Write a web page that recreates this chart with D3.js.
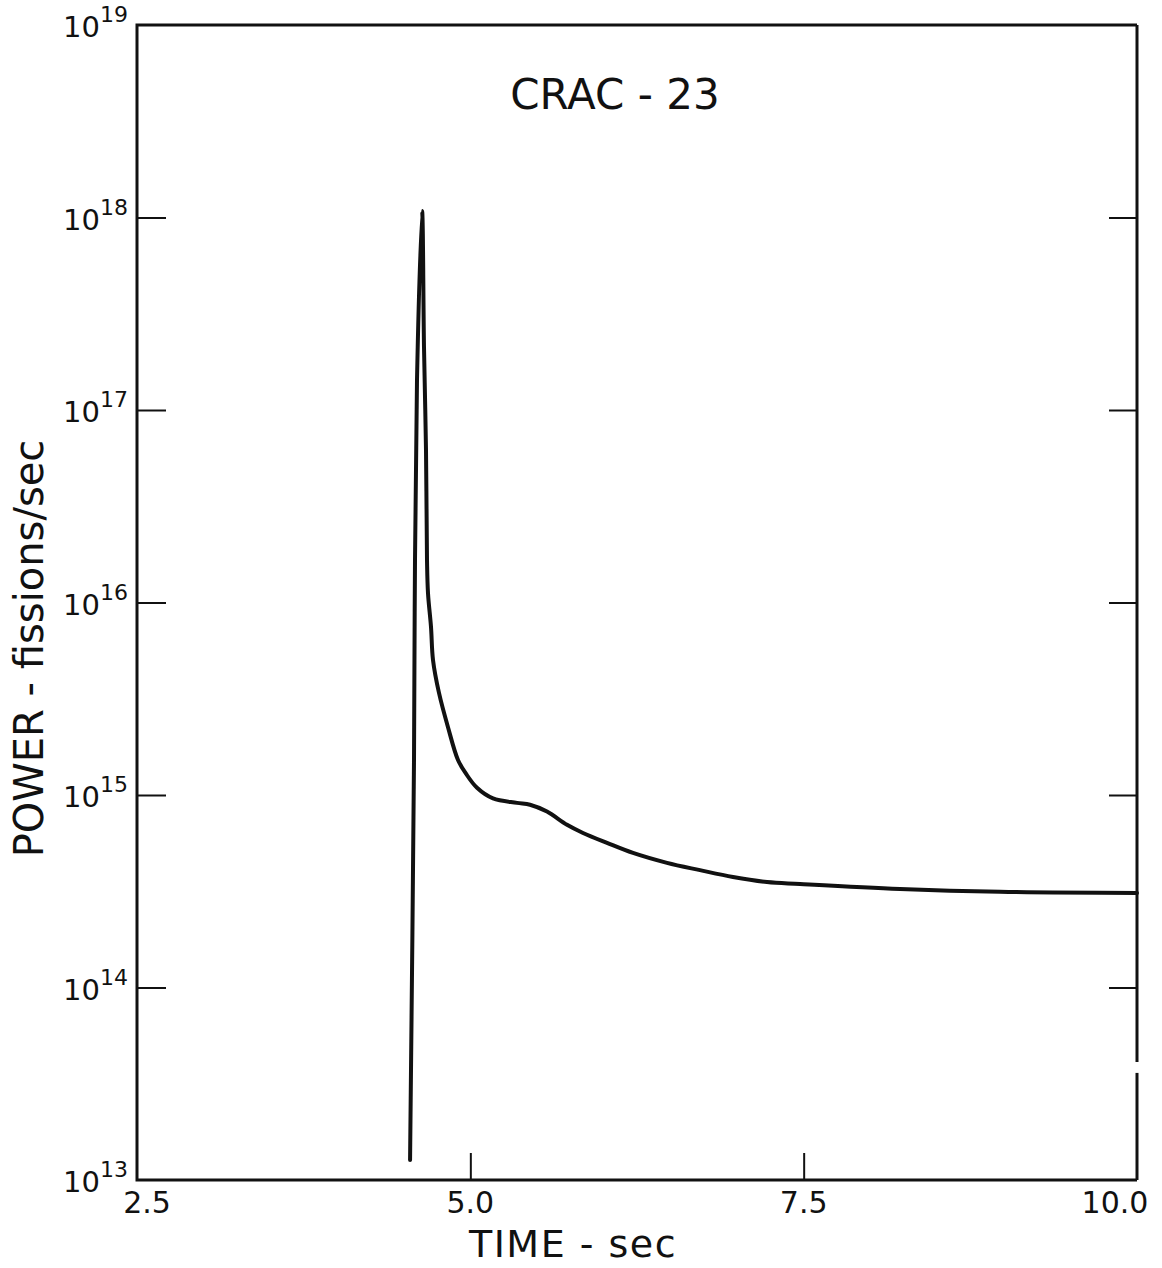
<!doctype html>
<html lang="en">
<head>
  <meta charset="utf-8" />
  <title>CRAC-23 power</title>
  <script src="https://cdn.jsdelivr.net/npm/d3@7"></script>
  <style>
    body { margin: 0; background: #fff; }
    text { font-family: "DejaVu Sans", sans-serif; fill: #111; }
  </style>
</head>
<body>
<script type="text/javascript">

  // data: time (s) and power (fissions/sec)
  var time = [4.548, 4.5775, 4.585, 4.60, 4.638, 4.6525, 4.6675, 4.675, 4.6825, 4.705,
              4.72, 4.765, 4.8325, 4.9075, 4.9675, 5.05, 5.17, 5.35, 5.4475, 5.575,
              5.725, 5.845, 6.025, 6.22, 6.475, 6.7225, 6.97, 7.225, 7.4725, 8.2225,
              8.9725, 10.0];
  var power = [1.27e13, 1.52e15, 1.66e16, 1.43e17, 1.08e18, 2.12e17, 6.2e16, 1.66e16, 1.12e16, 7.46e15,
               5.03e15, 3.39e15, 2.25e15, 1.52e15, 1.29e15, 1.09e15, 9.6e14, 9.1e14, 8.9e14, 8.2e14,
               7.0e14, 6.35e14, 5.64e14, 5.0e14, 4.44e14, 4.07e14, 3.75e14, 3.53e14, 3.45e14, 3.25e14,
               3.14e14, 3.10e14];

  var xTicks = [2.5, 5.0, 7.5, 10.0];
  var xTickLabels = ["2.5", "5.0", "7.5", "10.0"];
  var yExponents = [13, 14, 15, 16, 17, 18, 19];
  var title = "CRAC - 23";

  var margin = {top: 25, right: 25, bottom: 88, left: 137},
      width = 1162 - margin.left - margin.right,
      height = 1268 - margin.top - margin.bottom;

  var x = d3.scaleLinear().domain([2.5, 10]).range([0, width]);
  var y = d3.scaleLog().domain([1e13, 1e19]).range([height, 0]);

  var svg = d3.select("body").append("svg")
      .attr("width", 1162)
      .attr("height", 1268)
    .append("g")
      .attr("transform", "translate(" + margin.left + "," + margin.top + ")");

  var yVals = yExponents.map(function(e) { return Math.pow(10, e); });
  var inner = yVals.slice(1, -1);

  // inward ticks
  var leftAxis = d3.axisLeft(y).tickValues(inner).tickSize(-29).tickFormat("");
  var rightAxis = d3.axisRight(y).tickValues(inner).tickSize(-28).tickFormat("");
  var bottomAxis = d3.axisBottom(x).tickValues([5.0, 7.5]).tickSize(-27).tickFormat("");

  svg.append("g").attr("class", "axis").call(leftAxis);
  svg.append("g").attr("class", "axis").attr("transform", "translate(" + width + ",0)").call(rightAxis);
  svg.append("g").attr("class", "axis").attr("transform", "translate(0," + height + ")").call(bottomAxis);

  svg.selectAll(".axis .domain").remove();
  svg.selectAll(".axis line").attr("stroke", "#111").attr("stroke-width", 2);

  // frame (the right edge has a small break near the bottom, as in the scan)
  var frame = svg.append("g").attr("stroke", "#111").attr("stroke-width", 3).attr("fill", "none");
  frame.append("path").attr("d", "M" + width + ",0H0V" + height + "H" + width);
  frame.append("line").attr("x1", width).attr("x2", width).attr("y1", 0).attr("y2", y(4.1e13));
  frame.append("line").attr("x1", width).attr("x2", width).attr("y1", y(3.6e13)).attr("y2", height);

  // y tick labels: 10 with superscript exponent
  svg.selectAll(".ylab")
    .data(yExponents)
    .enter().append("text")
      .attr("class", "ylab")
      .attr("x", -9)
      .attr("y", function(d) { return y(Math.pow(10, d)) + 12; })
      .attr("text-anchor", "end")
      .each(function(d) {
        var t = d3.select(this);
        t.append("tspan").style("font-size", "29px").text("10");
        t.append("tspan").style("font-size", "22px").attr("dy", -15).text(d);
      });

  // x tick labels
  svg.selectAll(".xlab")
    .data(xTicks)
    .enter().append("text")
      .attr("class", "xlab")
      .attr("x", function(d) { return x(d); })
      .attr("dx", function(d, i) { return i === 0 ? 10 : (i === xTicks.length - 1 ? -22 : 0); })
      .attr("y", height + 33)
      .attr("text-anchor", "middle")
      .style("font-size", "30px")
      .text(function(d, i) { return xTickLabels[i]; });

  // curve
  var line = d3.line()
    .x(function(d, i) { return x(time[i]); })
    .y(function(d) { return y(d); })
    .curve(d3.curveCatmullRom.alpha(0.5));

  svg.append("path")
    .datum(power)
    .attr("fill", "none")
    .attr("stroke", "#111")
    .attr("stroke-width", 4)
    .attr("stroke-linejoin", "round")
    .attr("stroke-linecap", "round")
    .attr("d", line);

  // title and axis titles
  svg.append("text")
    .attr("x", 478)
    .attr("y", 84)
    .attr("text-anchor", "middle")
    .style("font-size", "42px")
    .text(title);

  svg.append("text")
    .attr("transform", "translate(-94," + (y(1e16) + 46) + ") rotate(-90)")
    .attr("text-anchor", "middle")
    .style("font-size", "40px")
    .text("POWER - fissions/sec");

  svg.append("text")
    .attr("x", 436)
    .attr("y", height + 77)
    .attr("text-anchor", "middle")
    .style("font-size", "38px")
    .style("letter-spacing", "1.5px")
    .text("TIME - sec");

</script>
</body>
</html>
